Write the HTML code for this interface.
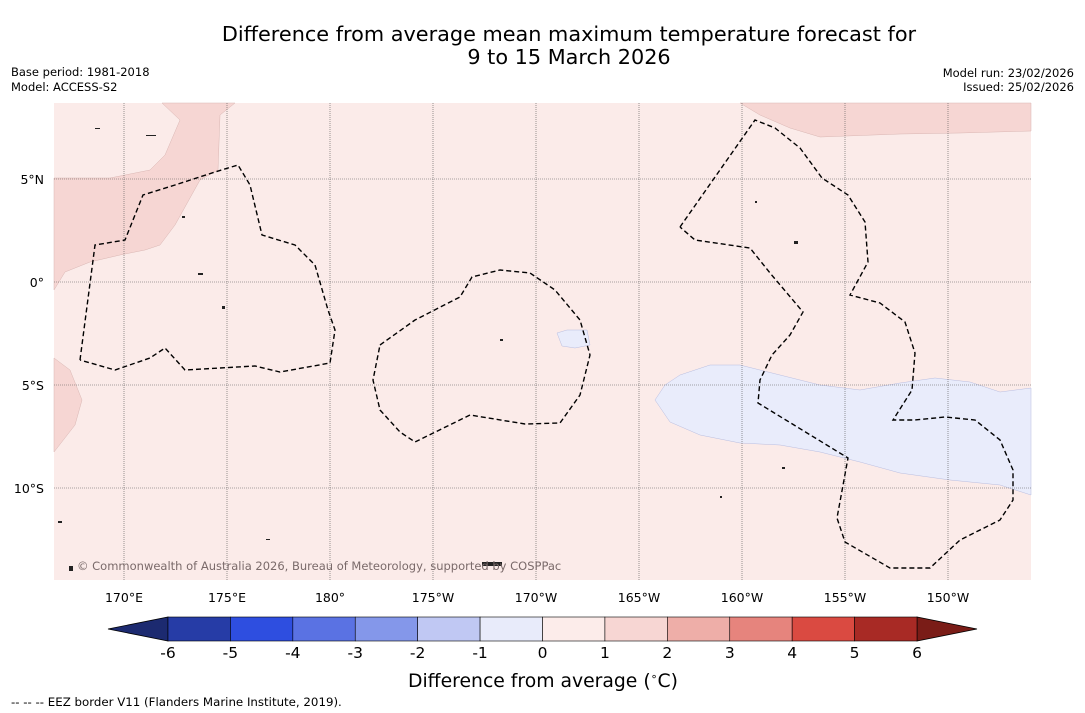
<!DOCTYPE html>
<html><head><meta charset="utf-8"><style>
body{margin:0;background:#fff;font-family:"DejaVu Sans","Liberation Sans",sans-serif}
svg{display:block}
</style></head><body>
<svg id="chart" width="1085" height="713" viewBox="0 0 1085 713">
<text x="569" y="41" font-size="20.8" text-anchor="middle" fill="#000">Difference from average mean maximum temperature forecast for</text>
<text x="569" y="64" font-size="20.8" text-anchor="middle" fill="#000">9 to 15 March 2026</text>
<text x="11" y="76" font-size="11.5">Base period: 1981-2018</text>
<text x="11" y="91" font-size="11.5">Model: ACCESS-S2</text>
<text x="1074" y="77" font-size="11.5" text-anchor="end">Model run: 23/02/2026</text>
<text x="1074" y="91" font-size="11.5" text-anchor="end">Issued: 25/02/2026</text>
<g id="map">
<rect x="54" y="103" width="977" height="477" fill="#fbebe9"/>
<polygon fill="#f6d6d3" stroke="#d9b6b3" stroke-width="0.5" points="162,103 235,103 220,115 218,170 200,180 175,225 160,245 145,250 120,255 90,262 65,272 54,290 54,178 110,178 150,170 165,155 180,120"/>
<polygon fill="#f6d6d3" stroke="#d9b6b3" stroke-width="0.5" points="54,358 70,370 82,400 75,425 54,452"/>
<polygon fill="#f6d6d3" stroke="#d9b6b3" stroke-width="0.5" points="740,103 760,115 790,128 820,137 900,134 960,133 1031,131 1031,103"/>
<polygon fill="#e9ecfb" stroke="#b8bde0" stroke-width="0.5" points="655,400 665,385 680,375 710,365 740,365 780,375 820,385 860,390 900,383 935,378 970,382 1000,392 1031,388 1031,495 1000,485 950,480 900,473 860,462 820,452 780,445 740,443 700,435 670,422"/>
<polygon fill="#e9ecfb" stroke="#b8bde0" stroke-width="0.5" points="557,333 567,330 587,330 590,345 575,348 562,346"/>
<g id="grid"></g>
<g fill="none" stroke="#000" stroke-width="1.4" stroke-dasharray="5,3">
<polyline points="80,360 95,245 125,240 143,195 175,185 215,172 238,165 250,185 262,235 295,245 315,265 328,310 335,330 330,363 280,372 255,366 185,370 165,348 150,358 115,370 80,360"/>
<polyline points="380,345 415,320 460,297 472,277 500,270 530,273 555,290 580,320 590,355 580,395 560,423 525,424 470,415 415,442 400,432 380,410 373,380 380,345"/>
<polyline points="680,227 755,120 775,128 800,148 822,178 848,195 865,222 868,262 850,295 880,303 905,322 915,353 912,390 893,420 915,420 945,417 975,420 1000,440 1013,470 1013,500 1000,520 960,540 930,568 890,568 845,542 837,518 848,458 758,403 760,380 772,355 790,335 803,312 770,273 750,248 695,240 680,227"/>
</g>
<g fill="#222">
<rect x="146" y="135" width="10" height="1"/><rect x="95" y="128" width="5" height="1"/><rect x="182" y="216" width="3" height="2"/><rect x="198" y="273" width="5" height="2"/><rect x="222" y="306" width="3" height="3"/><rect x="500" y="339" width="3" height="2"/><rect x="755" y="201" width="2" height="2"/><rect x="794" y="241" width="4" height="3"/><rect x="482" y="562" width="20" height="4"/><rect x="58" y="521" width="4" height="2"/><rect x="69" y="566" width="4" height="5"/><rect x="782" y="467" width="3" height="2"/><rect x="720" y="496" width="2" height="2"/><rect x="266" y="539" width="4" height="1"/>
</g>
<text x="77" y="570" font-size="11.5" fill="#7a6a6a">© Commonwealth of Australia 2026, Bureau of Meteorology, supported by COSPPac</text>
</g>
<g id="xticks"></g>
<g id="yticks"></g>
<g id="cbar"></g>
<text x="543" y="687" font-size="18.8" text-anchor="middle">Difference from average (<tspan font-size="11" dy="-7">∘</tspan><tspan dy="7">C)</tspan></text>
<text x="11" y="706" font-size="11.8">--  --  -- EEZ border V11 (Flanders Marine Institute, 2019).</text>
</svg>
<script>
const lonTicks=[170,175,180,185,190,195,200,205,210];
const lonLabels=["170°E","175°E","180°","175°W","170°W","165°W","160°W","155°W","150°W"];
const latTicks=[5,0,-5,-10];
const latLabels=["5°N","0°","5°S","10°S"];
const levels=[-6,-5,-4,-3,-2,-1,0,1,2,3,4,5,6];
const levelColors=["#263ca6","#2e4ee0","#5a72e3","#8497ea","#c0c8f3","#e8ebfa","#fcecea","#f7d6d3","#eeaea8","#e6847d","#da4a41","#a82a25"];
const lowColor="#1c2a70",highColor="#7a1c17";
const NS="http://www.w3.org/2000/svg";
const X0=54,X1=1031,Y0=103,Y1=580;
function xLon(l){return 124+(l-170)*20.6;}
function yLat(l){return 282-l*20.6;}
function mk(t,a,p){const e=document.createElementNS(NS,t);for(const k in a)e.setAttribute(k,a[k]);p.appendChild(e);return e;}
const grid=document.getElementById('grid'),xt=document.getElementById('xticks'),yt=document.getElementById('yticks');
lonTicks.forEach((l,i)=>{const x=xLon(l);
const ln=mk('line',{x1:x,x2:x,y1:Y0,y2:Y1,stroke:'#555','stroke-width':0.6,'stroke-dasharray':'1,1'},grid);


const t=mk('text',{x:x,y:602,'font-size':12.5,'text-anchor':'middle'},xt);t.textContent=lonLabels[i];

});
latTicks.forEach((l,i)=>{const y=yLat(l);
const ln=mk('line',{x1:X0,x2:X1,y1:y,y2:y,stroke:'#555','stroke-width':0.6,'stroke-dasharray':'1,1'},grid);


const t=mk('text',{x:44,y:y+5,'font-size':12.5,'text-anchor':'end'},yt);t.textContent=latLabels[i];

});
const cb=document.getElementById('cbar');
const C0=168,C1=917,CT=617,CB=641;
function xLev(v){return C0+(v-levels[0])/(levels[levels.length-1]-levels[0])*(C1-C0);}
const lt=mk('polygon',{points:`${C0},${CT} ${C0},${CB} 108,${(CT+CB)/2}`,fill:lowColor,stroke:'#000','stroke-width':0.8},cb);


const rt=mk('polygon',{points:`${C1},${CT} ${C1},${CB} 977,${(CT+CB)/2}`,fill:highColor,stroke:'#000','stroke-width':0.8},cb);


levelColors.forEach((c,i)=>{const a=xLev(levels[i]),b=xLev(levels[i+1]);
const r=mk('rect',{x:a,y:CT,width:b-a,height:CB-CT,fill:c,stroke:'#000','stroke-width':0.6},cb);

});
levels.forEach(v=>{const t=mk('text',{x:xLev(v),y:658,'font-size':15.5,'text-anchor':'middle'},cb);t.textContent=v;

});
</script>
</body></html>
